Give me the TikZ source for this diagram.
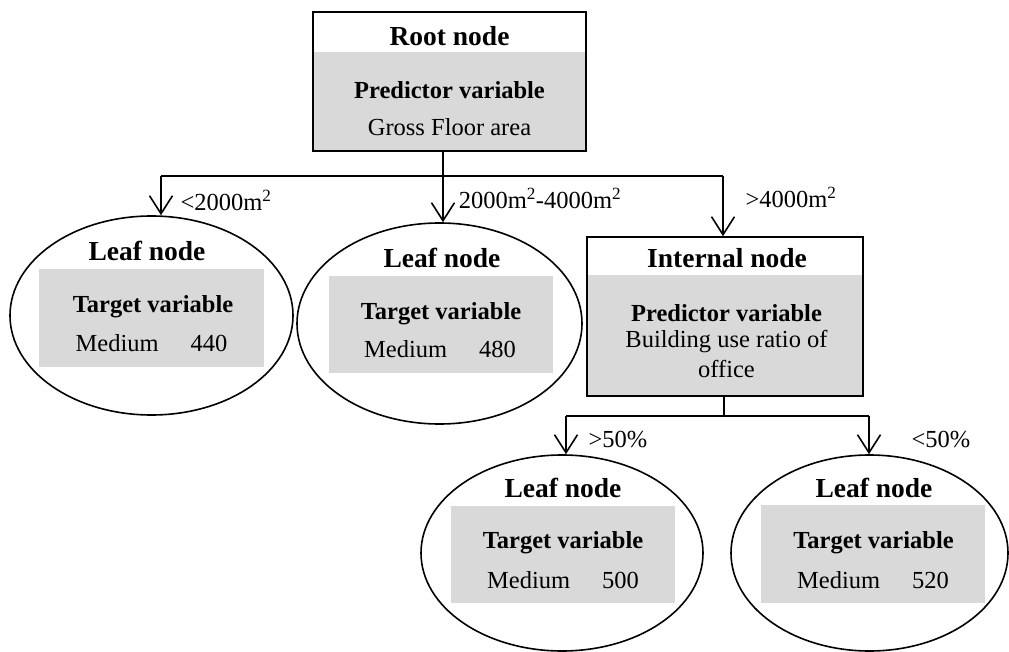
\documentclass[tikz,border=0pt]{standalone}
\usepackage{fontspec}
\setmainfont{Liberation Serif}
\usetikzlibrary{shapes.geometric,arrows.meta}
\definecolor{panelgray}{RGB}{217,217,217}
\tikzset{
  outline/.style={draw=black, line width=1.6pt},
  boxnode/.style={outline, rectangle, inner sep=0pt},
  leafnode/.style={outline, ellipse, inner sep=0pt},
  panel/.style={fill=panelgray},
  title/.style={font=\fontsize{27.5}{32}\selectfont\bfseries, inner sep=0pt},
  heading/.style={font=\fontsize{24.5}{29}\selectfont\bfseries, inner sep=0pt},
  body/.style={font=\fontsize{24.5}{29}\selectfont, inner sep=0pt},
  edge/.style={line width=1.6pt},
  branch/.style={line width=1.6pt, -{Straight Barb[length=18pt,width=23pt,line width=1.6pt]}},
  cond/.style={font=\fontsize{24.5}{29}\selectfont, inner sep=0pt}
}
\begin{document}
\begin{tikzpicture}[x=1pt,y=-1pt]
\useasboundingbox (0,0) rectangle (1009,652);

% grey panels
\fill[panel] (313,52) rectangle (586,151);
\fill[panel] (587,275) rectangle (863,396);
\fill[panel] (39,269) rectangle (264,367);
\fill[panel] (329,276) rectangle (553,373);
\fill[panel] (451,506) rectangle (675,603);
\fill[panel] (761,505) rectangle (985,603);

% node outlines
\node[boxnode, minimum width=273pt, minimum height=139pt] (root) at (449.5,81.5) {};
\node[boxnode, minimum width=276pt, minimum height=159pt] (internal) at (725,316.5) {};
\node[leafnode, minimum width=283pt, minimum height=199pt] (leafA) at (151.5,315.5) {};
\node[leafnode, minimum width=285pt, minimum height=201pt] (leafB) at (439.5,323.5) {};
\node[leafnode, minimum width=282pt, minimum height=196pt] (leafC) at (562,553) {};
\node[leafnode, minimum width=277pt, minimum height=196pt] (leafD) at (869.5,553) {};

% root texts
\node[title] (rootT) at (449.5,36) {Root node};
\node[heading] (rootH) at (449.5,90) {Predictor variable};
\node[body] (rootB) at (449.5,127) {Gross Floor area};

% internal texts
\node[title] (intT) at (727,258) {Internal node};
\node[heading] (intH) at (726.5,313) {Predictor variable};
\node[body] (intB1) at (726.5,342) {Building use ratio of};
\node[body] (intB2) at (726.5,369) {office};

% leaf texts
\node[title] (aT) at (147,251) {Leaf node};
\node[heading] (aH) at (153,307) {Target variable};
\node[body] (aB) at (151.5,343) {Medium\hspace{1.3em}440};

\node[title] (bT) at (442,258) {Leaf node};
\node[heading] (bH) at (441,314) {Target variable};
\node[body] (bB) at (440,349) {Medium\hspace{1.3em}480};

\node[title] (cT) at (563,488) {Leaf node};
\node[heading] (cH) at (563,543) {Target variable};
\node[body] (cB) at (563,580) {Medium\hspace{1.3em}500};

\node[title] (dT) at (874,488) {Leaf node};
\node[heading] (dH) at (873.5,543) {Target variable};
\node[body] (dB) at (873,580) {Medium\hspace{1.3em}520};

% first split
\coordinate (rj) at (443,176);
\coordinate (ra) at (161,176);
\coordinate (rc) at (723,176);
\draw[edge] (root.south -| rj) -- (rj);
\draw[edge] (ra) -- (rc);
\draw[branch] (ra) -- (ra |- leafA.north);
\draw[branch] (rj) -- (rj |- leafB.north);
\draw[branch] (rc) -- (rc |- internal.north);

% second split
\coordinate (ij) at (724,416);
\coordinate (ia) at (566,416);
\coordinate (ib) at (869,416);
\draw[edge] (internal.south -| ij) -- (ij);
\draw[edge] (ia) -- (ib);
\draw[branch] (ia) -- (ia |- leafC.north);
\draw[branch] (ib) -- (ib |- leafD.north);

% split conditions
\node[cond] (c1) at (226,200) {<2000m\textsuperscript{2}};
\node[cond] (c2) at (540,198) {2000m\textsuperscript{2}-4000m\textsuperscript{2}};
\node[cond] (c3) at (791,197) {>4000m\textsuperscript{2}};
\node[cond] (c4) at (618,440) {>50\%};
\node[cond] (c5) at (941,440) {<50\%};
\end{tikzpicture}
\end{document}
